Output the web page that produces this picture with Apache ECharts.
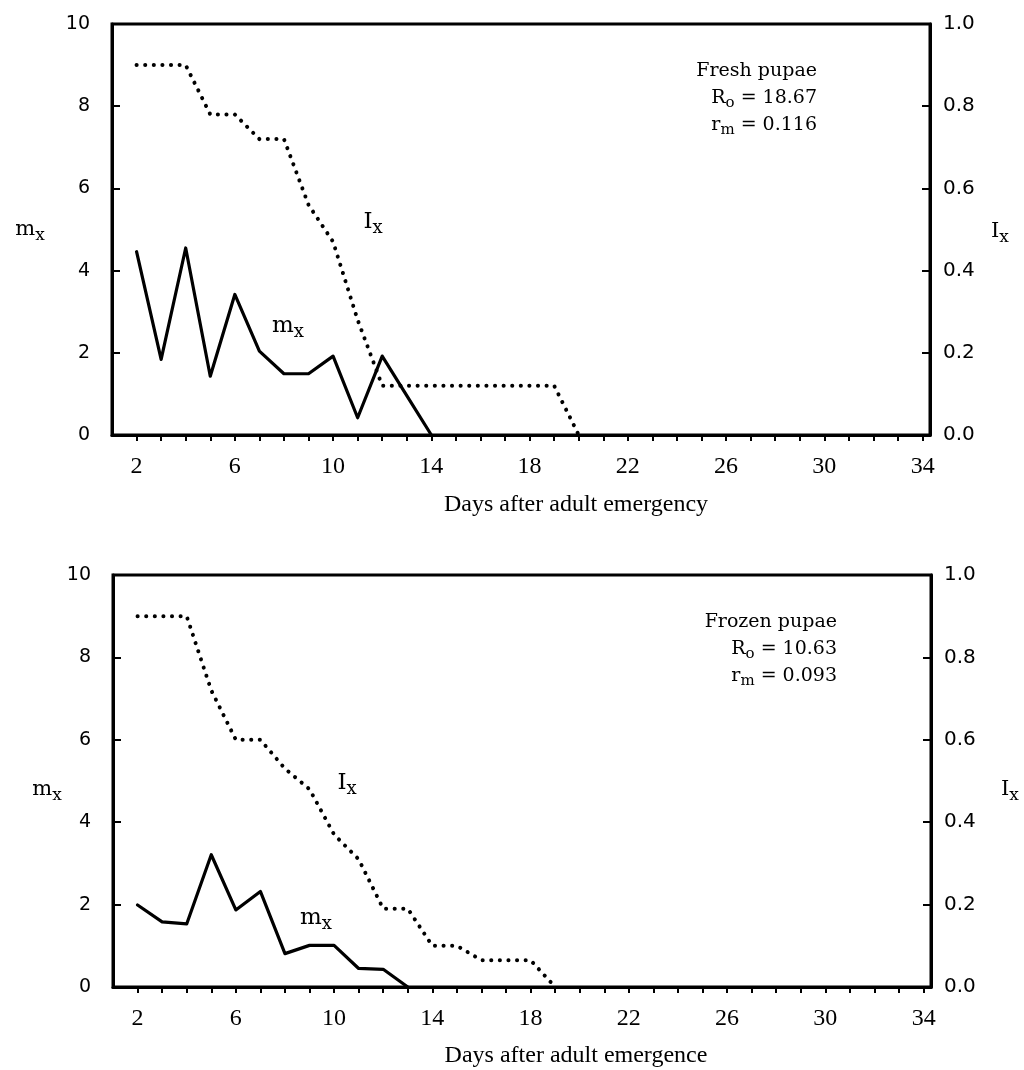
<!DOCTYPE html>
<html>
<head>
<meta charset="utf-8">
<script src="https://cdn.jsdelivr.net/npm/echarts@6/dist/echarts.min.js"></script>
<style>
html,body{margin:0;padding:0;background:#fff;}
#c{width:1024px;height:1070px;}
</style>
</head>
<body>
<div id="c"></div>
<script>
// ---- data ----
const mxFreshDays = [2,3,4,5,6,7,8,9,10,11,12,13,14];
const mxFresh     = [4.46,1.84,4.55,1.43,3.42,2.04,1.49,1.49,1.92,0.42,1.92,0.96,0];
const lxFreshDays = [2,3,4,5,6,7,8,9,10,11,12,13,14,15,16,17,18,19,20];
const lxFresh     = [0.90,0.90,0.90,0.78,0.78,0.72,0.72,0.56,0.47,0.28,0.12,0.12,0.12,0.12,0.12,0.12,0.12,0.12,0];

const mxFrozenDays = [2,3,4,5,6,7,8,9,10,11,12,13];
const mxFrozen     = [1.99,1.58,1.53,3.21,1.87,2.32,0.81,1.01,1.01,0.45,0.43,0];
const lxFrozenDays = [2,3,4,5,6,7,8,9,10,11,12,13,14,15,16,17,18,19];
const lxFrozen     = [0.90,0.90,0.90,0.72,0.60,0.60,0.53,0.48,0.37,0.31,0.19,0.19,0.10,0.10,0.065,0.065,0.065,0];

const xTickLabels = [2,6,10,14,18,22,26,30,34];
const xTickMarks  = [2,3,4,5,6,7,8,9,10,11,12,13,14,15,16,17,18,19,20,21,22,23,24,25,26,27,28,29,30,31,32,33,34];

const titleTop = 'Days after adult emergency';
const titleBottom = 'Days after adult emergence';

// ---- helpers ----
const pair = (d, v) => d.map((x, i) => [x, v[i]]);
const serif = 'DejaVu Serif';
const sans = 'DejaVu Sans';

function xAxisFor(gi) {
  return {
    type: 'value', gridIndex: gi, min: 1, max: 34.3,
    axisLine: { show: true, onZero: false, lineStyle: { color: '#000', width: 3 } },
    axisTick: { show: true, customValues: xTickMarks, inside: false, length: 6, lineStyle: { color: '#000', width: 2 } },
    axisLabel: { customValues: xTickLabels, color: '#000', fontFamily: 'Liberation Serif', fontSize: 24, margin: 20 },
    splitLine: { show: false }
  };
}
function yLeft(gi) {
  return {
    type: 'value', gridIndex: gi, min: 0, max: 10, interval: 2, position: 'left',
    axisLine: { show: true, lineStyle: { color: '#000', width: 3 } },
    axisTick: { show: true, inside: true, length: 8, lineStyle: { color: '#000', width: 2 } },
    axisLabel: { color: '#000', fontFamily: sans, fontSize: 19, margin: 22 },
    splitLine: { show: false }
  };
}
function yRight(gi) {
  return {
    type: 'value', gridIndex: gi, min: 0, max: 1, interval: 0.2, position: 'right',
    axisLine: { show: true, lineStyle: { color: '#000', width: 3 } },
    axisTick: { show: true, inside: true, length: 8, lineStyle: { color: '#000', width: 2 } },
    axisLabel: { color: '#000', fontFamily: sans, fontSize: 20, margin: 13, formatter: v => v.toFixed(1) },
    splitLine: { show: false }
  };
}
const subRich = (size) => ({
  n: { fontFamily: serif, fontSize: size, lineHeight: 27, color: '#000' },
  s: { fontFamily: serif, fontSize: Math.round(size * 0.8), lineHeight: 16, padding: [11, 0, 0, 0], verticalAlign: 'top', color: '#000' }
});
function label(x, y, main, sub, size, align) {
  return {
    type: 'text', x: x, y: y,
    style: { text: '{n|' + main + '}{s|' + sub + '}', rich: subRich(size), align: align || 'center', verticalAlign: 'middle' }
  };
}
function block(x, y, lines) {
  return {
    type: 'text', x: x, y: y,
    style: { text: lines.join('\n'), rich: subRich(19), align: 'right', verticalAlign: 'top' }
  };
}

const solid = { color: '#000', width: 3.2, cap: 'round', join: 'round' };
const dotted = { color: '#000', width: 4, type: [0.1, 8.5], cap: 'round', join: 'round' };

const option = {
  backgroundColor: '#fff',
  animation: false,
  grid: [
    { left: 112, top: 24, width: 818, height: 411, show: true, borderColor: '#000', borderWidth: 3, backgroundColor: 'transparent' },
    { left: 113, top: 575, width: 818, height: 412, show: true, borderColor: '#000', borderWidth: 3, backgroundColor: 'transparent' }
  ],
  xAxis: [xAxisFor(0), xAxisFor(1)],
  yAxis: [yLeft(0), yRight(0), yLeft(1), yRight(1)],
  series: [
    { type: 'line', xAxisIndex: 0, yAxisIndex: 0, data: pair(mxFreshDays, mxFresh), showSymbol: false, lineStyle: solid },
    { type: 'line', xAxisIndex: 0, yAxisIndex: 1, data: pair(lxFreshDays, lxFresh), showSymbol: false, lineStyle: dotted },
    { type: 'line', xAxisIndex: 1, yAxisIndex: 2, data: pair(mxFrozenDays, mxFrozen), showSymbol: false, lineStyle: solid },
    { type: 'line', xAxisIndex: 1, yAxisIndex: 3, data: pair(lxFrozenDays, lxFrozen), showSymbol: false, lineStyle: dotted }
  ],
  graphic: [
    // axis names
    label(30, 230, 'm', 'x', 21),
    label(1000, 232, 'I', 'x', 21),
    label(47, 790, 'm', 'x', 21),
    label(1010, 790, 'I', 'x', 21),
    // in-plot curve labels
    label(373, 222, 'I', 'x', 23),
    label(288, 326, 'm', 'x', 23),
    label(347, 783, 'I', 'x', 23),
    label(316, 918, 'm', 'x', 23),
    // annotations
    block(817, 58, ['{n|Fresh pupae}', '{n|R}{s|o}{n| = 18.67}', '{n|r}{s|m}{n| = 0.116}']),
    block(837, 609, ['{n|Frozen pupae}', '{n|R}{s|o}{n| = 10.63}', '{n|r}{s|m}{n| = 0.093}']),
    // x-axis titles
    { type: 'text', x: 576, y: 505, style: { text: titleTop, fontFamily: 'Liberation Serif', fontSize: 24, fill: '#000', align: 'center', verticalAlign: 'middle' } },
    { type: 'text', x: 576, y: 1056, style: { text: titleBottom, fontFamily: 'Liberation Serif', fontSize: 24, fill: '#000', align: 'center', verticalAlign: 'middle' } }
  ]
};

const chart = echarts.init(document.getElementById('c'), null, { renderer: 'canvas' });
chart.setOption(option);
</script>
</body>
</html>
